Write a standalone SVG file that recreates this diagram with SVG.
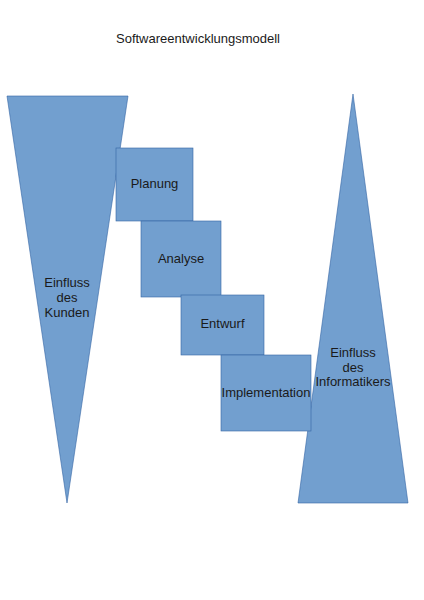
<svg xmlns="http://www.w3.org/2000/svg" width="424" height="600" viewBox="0 0 424 600">
<style>
.shape{fill:#729fcf;stroke:#3465a4;stroke-width:0.6}
text{font-family:"Liberation Sans",Arial,sans-serif;font-size:13px;fill:#1a1a1a;text-anchor:middle}
</style>
<rect width="424" height="600" fill="#ffffff"/>
<text id="title" x="198" y="43">Softwareentwicklungsmodell</text>
<g id="kunden">
<polygon class="shape" points="7,96 128,96 67,503"/>
<text x="67" y="287">Einfluss</text>
<text x="67" y="302">des</text>
<text x="67" y="317">Kunden</text>
</g>
<g id="informatiker">
<polygon class="shape" points="353,94 408,503 298,503"/>
<text x="353" y="357">Einfluss</text>
<text x="353" y="372">des</text>
<text x="353" y="386">Informatikers</text>
</g>
<g id="planung">
<rect class="shape" x="116" y="148" width="77" height="73"/>
<text x="154.5" y="188">Planung</text>
</g>
<g id="analyse">
<rect class="shape" x="141" y="221" width="80" height="76"/>
<text x="181" y="263">Analyse</text>
</g>
<g id="entwurf">
<rect class="shape" x="181" y="295" width="83" height="60"/>
<text x="222.5" y="328">Entwurf</text>
</g>
<g id="implementation">
<rect class="shape" x="221" y="355" width="90" height="76"/>
<text x="266" y="397">Implementation</text>
</g>
<g id="connectors"></g>
</svg>
